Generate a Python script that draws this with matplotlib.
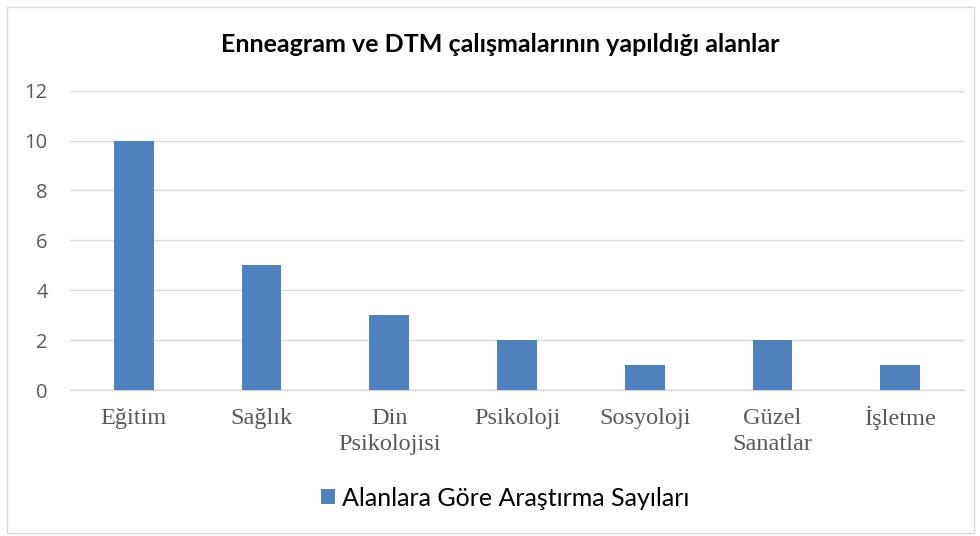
import matplotlib
matplotlib.use("Agg")
import matplotlib.pyplot as plt
from matplotlib.patches import Rectangle
from matplotlib.transforms import ScaledTranslation

categories = ["Eğitim", "Sağlık", "Din\nPsikolojisi", "Psikoloji", "Sosyoloji", "Güzel\nSanatlar", "İşletme"]
values = [10, 5, 3, 2, 1, 2, 1]
yticks = [0, 2, 4, 6, 8, 10, 12]
title = "Enneagram ve DTM çalışmalarının yapıldığı alanlar"
series_name = "Alanlara Göre Araştırma Sayıları"

W, H = 980, 536
fig = plt.figure(figsize=(W/100, H/100), dpi=100)
fig.patch.set_facecolor("white")

# outer frame
fig.add_artist(Rectangle((7/W, 3/H), (974-7)/W, (531-5)/H, transform=fig.transFigure,
                         fill=False, edgecolor="#D9D9D9", linewidth=1))

ax = fig.add_axes([70/W, 1-390/H, (964-70)/W, (390-90.7)/H])
x = list(range(len(categories)))
bars = ax.bar(x, values, width=0.31, color="#4F81BD", label=series_name, zorder=3)
ax.set_xlim(-0.5, len(categories)-0.5)
ax.set_ylim(0, 12)
ax.set_yticks(yticks)
ax.set_yticklabels([str(t) for t in yticks], family="Open Sans", fontsize=14.5, color="#595959")
ax.set_xticks(x)
ax.set_xticklabels(categories, family="Liberation Serif", fontsize=17.5, color="#595959", linespacing=1.3)
ax.tick_params(axis="both", length=0)
ax.tick_params(axis="y", pad=16)
ax.tick_params(axis="x", pad=13)
# the dotted capital I makes its label sit lower with top alignment; lift it to share the baseline
for lbl in ax.get_xticklabels():
    if lbl.get_text().startswith("İ"):
        lbl.set_transform(lbl.get_transform() + ScaledTranslation(0, 2.5/100, fig.dpi_scale_trans))
ax.grid(axis="y", color="#D9D9D9", linewidth=1, zorder=0)
for s in ["top", "right", "left"]:
    ax.spines[s].set_visible(False)
ax.spines["bottom"].set_color("#D9D9D9")
ax.spines["bottom"].set_linewidth(1)

fig.text(500/W, 1-44/H, title, ha="center", va="center", family="Lato", fontweight="bold",
         fontsize=18, color="black")

leg = fig.legend(handles=[bars], labels=[series_name], loc="center", bbox_to_anchor=(505/W, 1-498/H),
                 frameon=False, prop={"family": "Lato", "size": 18}, handlelength=0.56, handleheight=0.56,
                 handletextpad=0.3)
for t in leg.get_texts():
    t.set_color("black")

fig.savefig("out.png", dpi=100)
